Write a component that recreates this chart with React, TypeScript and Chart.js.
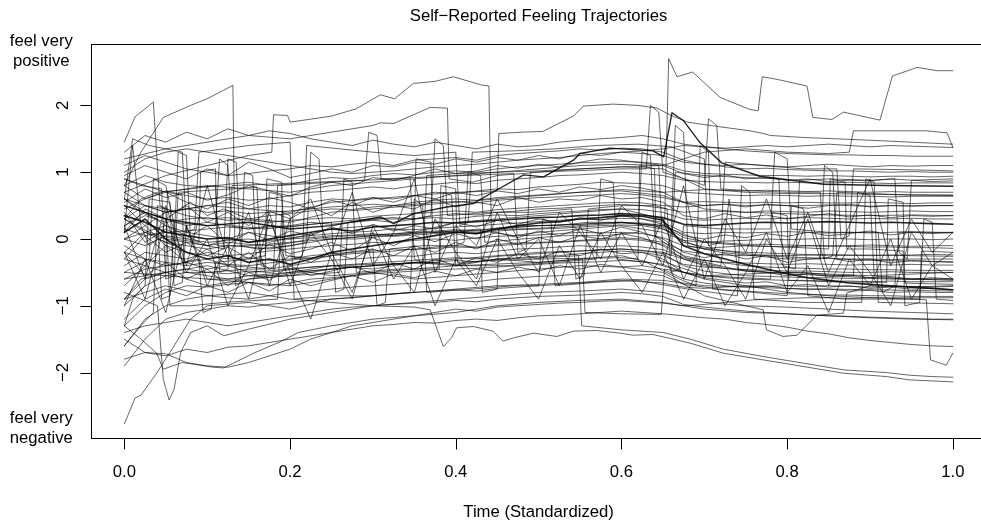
import React, { useEffect, useRef } from "react";
import { Chart, registerables } from "chart.js";

Chart.register(...registerables);

// ---------- text ----------
const TITLE = "Self\u2212Reported Feeling Trajectories";
const X_TITLE = "Time (Standardized)";
const TOP_LABEL = ["feel very", "positive"];
const BOTTOM_LABEL = ["feel very", "negative"];
const X_TICKS = [0, 0.2, 0.4, 0.6, 0.8, 1.0];
const X_TICK_LABELS = ["0.0", "0.2", "0.4", "0.6", "0.8", "1.0"];
const Y_TICKS = [-2, -1, 0, 1, 2];
const Y_TICK_LABELS = ["\u22122", "\u22121", "0", "1", "2"];

// ---------- shared time grid ----------
const GRID = [
  0, 0.025, 0.05, 0.075, 0.1, 0.125, 0.15, 0.175, 0.2, 0.225,
  0.25, 0.275, 0.3, 0.325, 0.35, 0.375, 0.4, 0.425, 0.45, 0.475,
  0.5, 0.525, 0.55, 0.575, 0.6, 0.625, 0.65, 0.675, 0.7, 0.725,
  0.75, 0.775, 0.8, 0.825, 0.85, 0.875, 0.9, 0.925, 0.95, 0.975,
  1.0,
];

// ---------- band trajectories (on GRID) ----------
const B1 = [1.10, 1.25, 1.15, 1.05, 1.00, 0.95, 0.98, 1.02, 1.05, 1.10,
  1.08, 1.12, 1.15, 1.10, 1.18, 1.20, 1.22, 1.18, 1.25, 1.28,
  1.30, 1.32, 1.35, 1.33, 1.36, 1.35, 1.30, 1.18, 1.12, 1.08,
  1.05, 1.06, 1.04, 1.03, 1.02, 1.02, 1.01, 1.00, 1.01, 1.00,
  1.00];
const B2 = [0.80, 0.95, 0.85, 0.80, 0.78, 0.82, 0.85, 0.80, 0.82, 0.88,
  0.92, 0.90, 0.95, 0.98, 0.96, 1.00, 1.02, 1.00, 1.05, 1.08,
  1.10, 1.12, 1.14, 1.15, 1.16, 1.15, 1.12, 1.02, 0.98, 0.97,
  0.96, 0.95, 0.95, 0.94, 0.95, 0.94, 0.93, 0.94, 0.94, 0.93,
  0.94];
const B3 = [0.45, 0.60, 0.72, 0.65, 0.60, 0.62, 0.58, 0.60, 0.65, 0.70,
  0.72, 0.75, 0.78, 0.75, 0.80, 0.82, 0.85, 0.83, 0.88, 0.90,
  0.92, 0.95, 0.96, 0.98, 1.00, 0.98, 0.95, 0.88, 0.86, 0.85,
  0.85, 0.84, 0.85, 0.84, 0.84, 0.85, 0.84, 0.83, 0.84, 0.84,
  0.84];
const B4 = [0.30, 0.50, 0.40, 0.45, 0.50, 0.55, 0.45, 0.50, 0.48, 0.55,
  0.60, 0.58, 0.62, 0.60, 0.65, 0.70, 0.68, 0.72, 0.75, 0.74,
  0.78, 0.80, 0.82, 0.85, 0.84, 0.83, 0.80, 0.70, 0.68, 0.66,
  0.65, 0.66, 0.65, 0.64, 0.65, 0.64, 0.64, 0.63, 0.64, 0.64,
  0.64];
const B5 = [0.20, 0.35, 0.25, 0.30, 0.32, 0.28, 0.30, 0.35, 0.38, 0.42,
  0.45, 0.44, 0.48, 0.50, 0.52, 0.55, 0.56, 0.54, 0.58, 0.60,
  0.62, 0.63, 0.65, 0.66, 0.68, 0.66, 0.62, 0.55, 0.56, 0.55,
  0.54, 0.55, 0.54, 0.55, 0.54, 0.54, 0.55, 0.54, 0.53, 0.54,
  0.54];
const B6 = [0.15, 0.05, 0.10, 0.12, 0.15, 0.18, 0.15, 0.20, 0.18, 0.22,
  0.25, 0.28, 0.30, 0.32, 0.30, 0.35, 0.38, 0.36, 0.40, 0.42,
  0.45, 0.46, 0.48, 0.50, 0.52, 0.50, 0.46, 0.40, 0.42, 0.41,
  0.40, 0.42, 0.41, 0.40, 0.42, 0.41, 0.40, 0.41, 0.42, 0.41,
  0.41];
const B7 = [0.35, 0.25, 0.10, 0.05, 0.00, 0.02, -0.05, 0.00, 0.05, 0.10,
  0.15, 0.12, 0.18, 0.20, 0.22, 0.25, 0.24, 0.26, 0.28, 0.30,
  0.32, 0.33, 0.35, 0.36, 0.38, 0.36, 0.32, 0.22, 0.20, 0.22,
  0.24, 0.25, 0.24, 0.25, 0.26, 0.25, 0.24, 0.25, 0.24, 0.23,
  0.22];
const B8 = [0.00, -0.10, 0.05, 0.00, -0.05, -0.02, 0.00, -0.05, 0.02, 0.05,
  0.08, 0.10, 0.12, 0.15, 0.14, 0.16, 0.18, 0.20, 0.22, 0.24,
  0.26, 0.28, 0.30, 0.29, 0.31, 0.30, 0.25, 0.10, 0.08, 0.10,
  0.09, 0.10, 0.11, 0.10, 0.09, 0.10, 0.09, 0.10, 0.11, 0.10,
  0.09];
const B9 = [-0.20, 0.10, -0.05, -0.10, -0.15, -0.10, -0.12, -0.15, -0.10, -0.05,
  0.00, 0.02, 0.05, 0.04, 0.06, 0.08, 0.10, 0.08, 0.12, 0.14,
  0.15, 0.16, 0.18, 0.20, 0.21, 0.20, 0.15, -0.02, -0.05, -0.03,
  -0.02, 0.00, -0.01, 0.00, 0.01, 0.00, -0.01, 0.00, 0.00, -0.01,
  0.00];
const B10 = [0.10, 0.30, 0.00, -0.20, -0.30, -0.25, -0.35, -0.30, -0.38, -0.30,
  -0.20, -0.15, -0.10, -0.05, 0.00, 0.05, 0.10, 0.08, 0.15, 0.20,
  0.24, 0.26, 0.30, 0.32, 0.35, 0.34, 0.28, -0.10, -0.22, -0.30,
  -0.38, -0.45, -0.52, -0.58, -0.62, -0.66, -0.68, -0.70, -0.72, -0.74,
  -0.76];
const B11 = [-0.40, -0.20, -0.25, -0.30, -0.20, -0.25, -0.22, -0.18, -0.15, -0.12,
  -0.10, -0.08, -0.05, -0.06, -0.02, 0.00, -0.02, 0.02, 0.04, 0.05,
  0.06, 0.08, 0.10, 0.09, 0.10, 0.08, 0.02, -0.10, -0.14, -0.12,
  -0.10, -0.11, -0.12, -0.10, -0.11, -0.10, -0.09, -0.10, -0.11, -0.10,
  -0.10];
const B12 = [0.50, 0.20, -0.10, -0.20, -0.25, -0.30, -0.28, -0.32, -0.30, -0.25,
  -0.22, -0.20, -0.18, -0.15, -0.16, -0.12, -0.10, -0.12, -0.08, -0.06,
  -0.05, -0.04, -0.02, 0.00, 0.02, 0.00, -0.05, -0.18, -0.22, -0.24,
  -0.25, -0.24, -0.25, -0.24, -0.23, -0.24, -0.25, -0.24, -0.24, -0.23,
  -0.24];
const B13 = [-0.60, -0.45, -0.40, -0.35, -0.45, -0.40, -0.42, -0.45, -0.40, -0.35,
  -0.32, -0.30, -0.28, -0.25, -0.26, -0.22, -0.20, -0.22, -0.18, -0.15,
  -0.14, -0.12, -0.10, -0.12, -0.10, -0.12, -0.16, -0.28, -0.32, -0.35,
  -0.36, -0.37, -0.38, -0.37, -0.38, -0.39, -0.38, -0.39, -0.38, -0.39,
  -0.39];
const B14 = [-1.00, -0.70, -0.55, -0.50, -0.55, -0.60, -0.55, -0.58, -0.52, -0.48,
  -0.45, -0.42, -0.40, -0.38, -0.36, -0.35, -0.32, -0.34, -0.30, -0.28,
  -0.26, -0.25, -0.22, -0.20, -0.18, -0.20, -0.25, -0.38, -0.42, -0.44,
  -0.46, -0.47, -0.48, -0.48, -0.49, -0.50, -0.50, -0.49, -0.50, -0.50,
  -0.50];
const B15 = [-1.30, -1.00, -0.80, -0.70, -0.72, -0.68, -0.65, -0.70, -0.66, -0.60,
  -0.58, -0.55, -0.52, -0.50, -0.48, -0.46, -0.45, -0.44, -0.42, -0.40,
  -0.38, -0.36, -0.35, -0.34, -0.32, -0.34, -0.38, -0.50, -0.55, -0.58,
  -0.60, -0.61, -0.62, -0.62, -0.63, -0.63, -0.64, -0.63, -0.64, -0.64,
  -0.64];
const B16 = [-1.60, -1.20, -1.00, -0.90, -0.85, -0.88, -0.90, -0.85, -0.80, -0.78,
  -0.75, -0.72, -0.70, -0.68, -0.66, -0.65, -0.62, -0.64, -0.60, -0.58,
  -0.56, -0.55, -0.52, -0.50, -0.48, -0.50, -0.55, -0.68, -0.72, -0.76,
  -0.78, -0.80, -0.82, -0.83, -0.84, -0.84, -0.85, -0.85, -0.86, -0.86,
  -0.86];
const B17 = [-1.90, -1.50, -1.20, -1.10, -1.05, -1.00, -1.02, -0.98, -0.95, -0.92,
  -0.90, -0.88, -0.85, -0.82, -0.80, -0.78, -0.76, -0.78, -0.74, -0.72,
  -0.70, -0.68, -0.66, -0.64, -0.62, -0.64, -0.66, -0.72, -0.74, -0.72,
  -0.70, -0.71, -0.70, -0.71, -0.70, -0.71, -0.72, -0.71, -0.71, -0.72,
  -0.71];
const B18 = [-1.40, -1.30, -1.25, -1.20, -1.25, -1.30, -1.25, -1.20, -1.15, -1.10,
  -1.05, -1.02, -1.00, -0.98, -0.96, -0.95, -0.92, -0.94, -0.90, -0.88,
  -0.86, -0.85, -0.84, -0.82, -0.80, -0.82, -0.86, -0.98, -1.02, -1.05,
  -1.08, -1.10, -1.12, -1.14, -1.15, -1.16, -1.17, -1.18, -1.19, -1.20,
  -1.20];
const B19 = [-1.80, -1.70, -1.75, -1.65, -1.70, -1.62, -1.60, -1.55, -1.50, -1.45,
  -1.40, -1.35, -1.30, -1.28, -1.25, -1.26, -1.22, -1.20, -1.22, -1.18,
  -1.15, -1.14, -1.12, -1.10, -1.08, -1.10, -1.12, -1.15, -1.18, -1.20,
  -1.25, -1.28, -1.32, -1.38, -1.42, -1.48, -1.52, -1.55, -1.58, -1.60,
  -1.61];
const B20 = [-1.50, -1.70, -1.72, -1.85, -1.90, -1.92, -1.85, -1.75, -1.65, -1.50,
  -1.40, -1.30, -1.25, -1.20, -1.15, -1.10, -1.05, -1.08, -1.02, -1.00,
  -0.98, -0.96, -0.95, -0.93, -0.92, -0.94, -0.96, -1.00, -0.98, -0.95,
  -0.92, -0.90, -0.89, -0.88, -0.88, -0.89, -0.88, -0.88, -0.88, -0.88,
  -0.88];
const B21 = [1.00, 1.20, 1.30, 1.35, 1.30, 1.25, 1.20, 1.15, 1.10, 1.05,
  1.00, 0.98, 1.00, 1.02, 1.05, 1.08, 1.10, 1.12, 1.15, 1.18,
  1.20, 1.22, 1.25, 1.28, 1.30, 1.32, 1.35, 1.40, 1.38, 1.35,
  1.32, 1.30, 1.28, 1.27, 1.26, 1.26, 1.25, 1.25, 1.24, 1.24,
  1.24];
const B22 = [0.20, 0.40, 0.30, 0.20, 0.25, 0.20, 0.15, 0.18, 0.20, 0.25,
  0.22, 0.25, 0.28, 0.25, 0.30, 0.32, 0.30, 0.34, 0.36, 0.35,
  0.38, 0.40, 0.42, 0.44, 0.45, 0.44, 0.40, 0.30, 0.28, 0.30,
  0.31, 0.30, 0.31, 0.32, 0.31, 0.30, 0.31, 0.30, 0.31, 0.30,
  0.30];
const B23 = [0.60, 0.40, 0.20, 0.10, 0.05, 0.00, -0.05, -0.02, 0.00, 0.02,
  0.05, 0.06, 0.08, 0.05, 0.08, 0.10, 0.12, 0.10, 0.14, 0.15,
  0.16, 0.18, 0.20, 0.22, 0.24, 0.22, 0.18, -0.05, -0.12, -0.18,
  -0.22, -0.25, -0.27, -0.28, -0.29, -0.30, -0.30, -0.31, -0.30, -0.30,
  -0.30];
const B24 = [0.30, 0.10, 0.00, -0.05, -0.10, -0.05, -0.08, -0.10, -0.06, 0.00,
  0.03, 0.05, 0.06, 0.08, 0.10, 0.12, 0.14, 0.12, 0.16, 0.18,
  0.20, 0.21, 0.22, 0.24, 0.25, 0.24, 0.20, 0.02, -0.04, -0.06,
  -0.08, -0.08, -0.09, -0.10, -0.10, -0.11, -0.12, -0.12, -0.13, -0.13,
  -0.14];
const B25 = [-0.10, -0.30, -0.35, -0.40, -0.35, -0.38, -0.40, -0.36, -0.32, -0.28,
  -0.25, -0.22, -0.20, -0.18, -0.15, -0.14, -0.12, -0.13, -0.10, -0.08,
  -0.06, -0.05, -0.03, -0.02, 0.00, -0.02, -0.08, -0.25, -0.32, -0.36,
  -0.40, -0.42, -0.43, -0.44, -0.45, -0.45, -0.46, -0.46, -0.47, -0.47,
  -0.47];
const B26 = [0.70, 0.50, 0.45, 0.35, 0.30, 0.32, 0.28, 0.25, 0.28, 0.30,
  0.32, 0.30, 0.34, 0.36, 0.38, 0.40, 0.42, 0.40, 0.44, 0.46,
  0.48, 0.50, 0.52, 0.54, 0.55, 0.54, 0.50, 0.48, 0.50, 0.52,
  0.50, 0.51, 0.50, 0.50, 0.51, 0.50, 0.49, 0.50, 0.50, 0.50,
  0.50];
const B27 = [-0.90, -0.60, -0.50, -0.45, -0.50, -0.52, -0.48, -0.50, -0.46, -0.42,
  -0.40, -0.38, -0.36, -0.34, -0.32, -0.30, -0.28, -0.30, -0.26, -0.24,
  -0.22, -0.20, -0.18, -0.16, -0.15, -0.17, -0.22, -0.40, -0.48, -0.52,
  -0.55, -0.56, -0.57, -0.58, -0.58, -0.59, -0.59, -0.60, -0.60, -0.60,
  -0.60];
const B28 = [0.00, 0.20, 0.40, 0.45, 0.40, 0.42, 0.38, 0.40, 0.42, 0.45,
  0.48, 0.50, 0.52, 0.50, 0.55, 0.58, 0.60, 0.58, 0.62, 0.64,
  0.66, 0.68, 0.70, 0.72, 0.74, 0.72, 0.70, 0.72, 0.74, 0.73,
  0.72, 0.73, 0.72, 0.71, 0.72, 0.71, 0.70, 0.71, 0.70, 0.70,
  0.70];

// ---------- jittery band trajectories (on GRID) ----------
const C1 = [0.55, 0.75, 0.62, 0.70, 0.58, 0.66, 0.80, 0.72, 0.64, 0.78,
  0.85, 0.80, 0.92, 0.88, 0.95, 1.05, 0.98, 1.02, 1.10, 1.06,
  1.12, 1.08, 1.15, 1.20, 1.18, 1.14, 1.10, 0.98, 0.92, 0.96,
  0.90, 0.92, 0.88, 0.90, 0.86, 0.88, 0.87, 0.90, 0.88, 0.86,
  0.87];
const C2 = [-0.30, 0.05, -0.20, -0.05, -0.25, -0.12, -0.30, -0.08, -0.22, -0.15,
  -0.05, -0.18, 0.02, -0.10, 0.05, -0.04, 0.08, 0.00, 0.10, 0.02,
  0.12, 0.05, 0.15, 0.08, 0.18, 0.10, 0.00, -0.20, -0.28, -0.22,
  -0.30, -0.25, -0.35, -0.30, -0.28, -0.34, -0.30, -0.36, -0.32, -0.34,
  -0.35];
const C3 = [0.10, 0.45, 0.30, 0.50, 0.25, 0.40, 0.20, 0.42, 0.30, 0.48,
  0.35, 0.55, 0.40, 0.50, 0.45, 0.60, 0.48, 0.55, 0.50, 0.62,
  0.55, 0.60, 0.58, 0.65, 0.60, 0.62, 0.55, 0.35, 0.30, 0.38,
  0.32, 0.36, 0.30, 0.34, 0.38, 0.33, 0.36, 0.32, 0.35, 0.34,
  0.35];
const C4 = [-0.20, -0.55, -0.35, -0.60, -0.45, -0.70, -0.50, -0.62, -0.40, -0.55,
  -0.48, -0.40, -0.52, -0.36, -0.45, -0.30, -0.40, -0.28, -0.35, -0.22,
  -0.30, -0.18, -0.25, -0.15, -0.22, -0.20, -0.30, -0.50, -0.58, -0.62,
  -0.66, -0.64, -0.70, -0.68, -0.72, -0.70, -0.74, -0.72, -0.75, -0.74,
  -0.76];
const C5 = [1.30, 1.55, 1.45, 1.60, 1.50, 1.65, 1.55, 1.62, 1.58, 1.50,
  1.45, 1.40, 1.48, 1.42, 1.38, 1.45, 1.40, 1.35, 1.42, 1.38,
  1.40, 1.45, 1.48, 1.50, 1.52, 1.55, 1.50, 1.42, 1.38, 1.36,
  1.38, 1.40, 1.38, 1.40, 1.42, 1.40, 1.38, 1.40, 1.39, 1.38,
  1.37];
const C6 = [0.40, -0.05, 0.15, 0.00, 0.20, -0.08, 0.10, -0.02, 0.12, 0.05,
  0.18, 0.08, 0.22, 0.12, 0.20, 0.15, 0.25, 0.18, 0.28, 0.22,
  0.30, 0.25, 0.32, 0.28, 0.35, 0.30, 0.22, 0.05, 0.00, 0.06,
  0.02, 0.08, 0.04, 0.10, 0.05, 0.08, 0.12, 0.06, 0.10, 0.08,
  0.10];
const C7 = [-0.70, -0.40, -0.10, -0.35, -0.15, -0.40, -0.20, -0.45, -0.25, -0.35,
  -0.20, -0.30, -0.15, -0.25, -0.10, -0.20, -0.05, -0.15, 0.00, -0.08,
  0.02, -0.05, 0.05, 0.00, 0.08, 0.02, -0.10, -0.30, -0.38, -0.42,
  -0.48, -0.50, -0.55, -0.52, -0.56, -0.54, -0.58, -0.56, -0.60, -0.58,
  -0.60];
const C8 = [0.95, 1.10, 1.00, 0.90, 1.05, 0.95, 1.15, 1.05, 0.92, 0.98,
  1.05, 1.00, 1.10, 1.08, 1.15, 1.12, 1.20, 1.15, 1.22, 1.18,
  1.25, 1.20, 1.28, 1.25, 1.30, 1.28, 1.25, 1.15, 1.12, 1.10,
  1.12, 1.10, 1.08, 1.10, 1.12, 1.10, 1.08, 1.10, 1.09, 1.10,
  1.10];
const C9 = [0.80, 0.60, 0.70, 0.55, 0.45, 0.60, 0.50, 0.62, 0.55, 0.45,
  0.58, 0.50, 0.62, 0.55, 0.65, 0.60, 0.70, 0.65, 0.72, 0.68,
  0.75, 0.70, 0.78, 0.74, 0.80, 0.76, 0.70, 0.55, 0.50, 0.52,
  0.48, 0.52, 0.50, 0.46, 0.50, 0.52, 0.48, 0.50, 0.49, 0.50,
  0.50];
const C10 = [-1.20, -0.90, -0.75, -0.85, -0.70, -0.80, -0.65, -0.78, -0.60, -0.70,
  -0.62, -0.55, -0.65, -0.52, -0.58, -0.48, -0.55, -0.45, -0.50, -0.42,
  -0.48, -0.40, -0.45, -0.38, -0.42, -0.40, -0.45, -0.60, -0.66, -0.70,
  -0.72, -0.70, -0.74, -0.76, -0.75, -0.78, -0.77, -0.80, -0.79, -0.80,
  -0.80];

// ---------- jumpy trajectories (on GRID) ----------
const P1 = [0.20, -0.60, 0.50, -0.40, 0.80, -0.30, 0.40, -0.70, 0.30, 0.60,
  -0.20, 0.70, -0.40, 0.10, 0.90, -0.50, 0.20, -0.10, 0.60, 0.00,
  -0.50, 0.40, 0.10, -0.30, 0.50, 0.20, -0.40, 0.80, -0.60, 0.30,
  -0.20, 0.60, -0.30, 0.40, -0.50, 0.20, 0.90, -0.40, 0.30, -0.20,
  0.10];
const P2 = [-1.00, -0.30, -1.10, 0.20, -0.70, -0.10, -0.90, 0.30, -0.50, -1.20,
  -0.20, -0.80, 0.10, -0.60, -0.10, -1.00, -0.30, -0.70, 0.00, -0.50,
  -0.90, -0.10, -0.60, 0.10, -0.40, -0.80, -0.20, -0.90, -0.30, -1.00,
  -0.50, 0.10, -0.80, -0.40, -1.10, -0.30, -0.70, 0.00, -0.90, -0.40,
  -0.60];
const P3 = [-0.20, -0.90, 0.30, -0.50, 0.00, -1.00, -0.40, 0.40, -0.70, 0.10,
  -0.30, -0.90, 0.20, -0.40, -0.80, 0.30, -0.20, -0.60, 0.40, -0.30,
  0.00, -0.70, 0.20, -0.50, 0.10, -0.40, 0.30, -0.60, 0.00, -0.40,
  -0.90, 0.00, -0.50, 0.30, -0.70, -0.10, -0.50, -1.00, 0.10, -0.40,
  -0.20];

// ---------- spiky trajectories with their own times ----------
const Q1_T = [0, 0.01, 0.02, 0.03, 0.04, 0.06, 0.065, 0.075, 0.08, 0.1, 0.12, 0.125, 0.135, 0.14, 0.16, 0.2, 0.22, 0.225, 0.235, 0.24, 0.28, 0.32, 0.36, 0.4, 0.44, 0.48, 0.52, 0.56, 0.6, 0.64, 0.66, 0.665, 0.675, 0.68, 0.72, 0.76, 0.8, 0.84, 0.845, 0.855, 0.86, 0.9, 0.95, 1.0];
const Q1_V = [0.1, 1.4, 0.2, -0.1, 0.0, -0.1, 1.3, 1.25, -0.05, -0.1, -0.15, 1.2, 1.15, -0.1, -0.15, -0.1, -0.05, 1.3, 1.2, 0.0, 0.0, 0.05, 0.1, 0.1, 0.15, 0.2, 0.2, 0.25, 0.25, 0.2, 0.1, 1.7, 1.6, -0.1, -0.2, -0.25, -0.3, -0.3, 1.1, 1.0, -0.3, -0.32, -0.33, -0.34];
const Q2_T = [0, 0.015, 0.03, 0.035, 0.05, 0.07, 0.09, 0.095, 0.105, 0.11, 0.15, 0.17, 0.175, 0.19, 0.195, 0.23, 0.27, 0.3, 0.305, 0.315, 0.32, 0.36, 0.4, 0.41, 0.415, 0.43, 0.435, 0.48, 0.53, 0.58, 0.62, 0.625, 0.635, 0.64, 0.68, 0.72, 0.73, 0.74, 0.78, 0.82, 0.86, 0.88, 0.885, 0.9, 0.905, 0.94, 1.0];
const Q2_V = [-0.5, -0.4, -0.3, 0.9, 0.8, -0.35, -0.3, -1.1, -1.05, -0.35, -0.3, -0.25, 0.7, 0.65, -0.25, -0.3, -0.2, -0.15, -1.0, -0.95, -0.15, -0.1, -0.1, -0.05, 1.0, 0.95, -0.05, 0.0, 0.05, 0.05, 0.1, 1.3, 1.25, 0.05, -0.3, -0.4, 0.6, -0.45, -0.5, -0.5, -0.55, -0.55, 0.7, 0.65, -0.55, -0.6, -0.6];
const Q3_T = [0, 0.02, 0.045, 0.05, 0.06, 0.065, 0.09, 0.13, 0.16, 0.165, 0.18, 0.185, 0.21, 0.25, 0.29, 0.33, 0.345, 0.35, 0.36, 0.365, 0.4, 0.45, 0.5, 0.55, 0.6, 0.645, 0.65, 0.66, 0.665, 0.7, 0.75, 0.79, 0.795, 0.81, 0.815, 0.85, 0.9, 0.93, 0.935, 0.945, 0.95, 1.0];
const Q3_V = [0.9, 0.8, 0.75, -0.6, -0.55, 0.7, 0.72, 0.75, 0.78, -0.4, -0.45, 0.8, 0.82, 0.85, 0.88, 0.9, 0.92, -0.3, -0.35, 0.95, 0.98, 1.0, 1.02, 1.05, 1.08, 1.1, -0.2, -0.25, 1.0, 0.95, 0.92, 0.9, -0.4, -0.45, 0.88, 0.9, 0.88, 0.9, -0.2, -0.3, 0.88, 0.9];
const Q4_T = [0, 0.01, 0.025, 0.03, 0.055, 0.06, 0.07, 0.075, 0.1, 0.14, 0.145, 0.155, 0.16, 0.2, 0.26, 0.265, 0.275, 0.28, 0.33, 0.38, 0.385, 0.395, 0.4, 0.46, 0.52, 0.57, 0.575, 0.59, 0.595, 0.63, 0.67, 0.69, 0.695, 0.705, 0.71, 0.76, 0.8, 0.805, 0.82, 0.825, 0.87, 0.92, 0.96, 0.965, 0.975, 0.98, 1.0];
const Q4_V = [-1.3, -0.9, -0.7, 0.6, 0.55, -0.7, -0.65, 0.2, -0.6, -0.6, 1.0, 0.95, -0.55, -0.55, -0.5, 0.9, 0.85, -0.5, -0.45, -0.45, 0.7, 0.65, -0.4, -0.4, -0.35, -0.3, 0.9, 0.85, -0.3, -0.35, -0.6, -0.7, 1.4, 1.3, -0.75, -0.8, -0.85, 0.5, 0.45, -0.85, -0.9, -0.9, -0.9, 0.3, 0.25, -0.9, -0.92];
const Q5_T = [0, 0.01, 0.03, 0.05, 0.07, 0.075, 0.085, 0.09, 0.12, 0.15, 0.2, 0.205, 0.215, 0.22, 0.26, 0.3, 0.35, 0.4, 0.405, 0.415, 0.42, 0.47, 0.52, 0.57, 0.62, 0.66, 0.7, 0.705, 0.72, 0.725, 0.77, 0.82, 0.86, 0.865, 0.875, 0.88, 0.93, 0.97, 1.0];
const Q5_V = [0.6, 1.5, 1.4, 1.35, 1.3, 0.1, 0.15, 1.3, 1.35, 1.4, 1.45, -0.3, -0.25, 1.4, 1.35, 1.3, 1.25, 1.3, 0.2, 0.25, 1.3, 1.32, 1.35, 1.4, 1.42, 1.38, 1.2, -0.1, -0.05, 1.15, 1.1, 1.05, 1.05, 0.0, 0.05, 1.05, 1.04, 1.03, 1.02];
const Q6_T = [0, 0.02, 0.04, 0.045, 0.055, 0.06, 0.1, 0.11, 0.115, 0.125, 0.13, 0.17, 0.21, 0.25, 0.255, 0.265, 0.27, 0.31, 0.35, 0.37, 0.375, 0.385, 0.39, 0.44, 0.49, 0.54, 0.545, 0.555, 0.56, 0.6, 0.64, 0.655, 0.66, 0.67, 0.675, 0.72, 0.77, 0.78, 0.785, 0.8, 0.805, 0.85, 0.9, 0.91, 0.915, 0.93, 0.935, 1.0];
const Q6_V = [0.6, 0.4, 0.3, -0.9, -0.85, 0.25, 0.2, 0.2, 1.2, 1.1, 0.2, 0.15, 0.2, 0.25, -0.8, -0.75, 0.25, 0.3, 0.3, 0.35, 1.5, 1.4, 0.35, 0.4, 0.4, 0.45, -0.6, -0.55, 0.45, 0.5, 0.5, 0.45, -0.5, -0.45, 0.2, 0.15, 0.15, 0.15, 1.3, 1.2, 0.15, 0.1, 0.1, 0.1, -0.8, -0.7, 0.1, 0.1];
const Q7_T = [0, 0.02, 0.035, 0.04, 0.05, 0.055, 0.08, 0.12, 0.185, 0.19, 0.2, 0.205, 0.25, 0.3, 0.345, 0.35, 0.36, 0.365, 0.42, 0.47, 0.5, 0.505, 0.515, 0.52, 0.57, 0.62, 0.68, 0.74, 0.745, 0.755, 0.76, 0.82, 0.88, 0.89, 0.895, 0.905, 0.91, 0.96, 1.0];
const Q7_V = [-1.6, -1.3, -1.1, 0.5, 0.45, -1.0, -1.0, -0.95, -0.9, 0.4, 0.35, -0.9, -0.85, -0.85, -0.8, 0.6, 0.5, -0.8, -0.75, -0.7, -0.7, 0.3, 0.25, -0.7, -0.65, -0.62, -0.75, -0.85, 0.8, 0.7, -0.9, -0.95, -0.95, -0.95, 0.9, 0.85, -0.95, -0.96, -0.97];
const Q8_T = [0, 0.02, 0.04, 0.08, 0.11, 0.115, 0.125, 0.13, 0.17, 0.23, 0.29, 0.295, 0.305, 0.31, 0.35, 0.41, 0.47, 0.475, 0.485, 0.49, 0.54, 0.6, 0.63, 0.635, 0.645, 0.65, 0.69, 0.7, 0.705, 0.715, 0.72, 0.76, 0.8, 0.84, 0.845, 0.855, 0.86, 0.9, 0.95, 1.0];
const Q8_V = [0.3, 0.6, 0.7, 0.75, 0.8, -0.5, -0.45, 0.8, 0.82, 0.85, 0.88, 1.6, 1.55, 0.9, 0.92, 0.95, 0.98, -0.2, -0.15, 1.0, 1.02, 1.05, 1.05, 2.0, 1.9, 1.0, 0.85, 0.8, 1.8, 1.7, 0.75, 0.72, 0.7, 0.7, -0.3, -0.25, 0.7, 0.68, 0.66, 0.65];
const Q9_T = [0, 0.03, 0.06, 0.09, 0.092, 0.11, 0.112, 0.15, 0.2, 0.25, 0.3, 0.35, 0.352, 0.37, 0.372, 0.4, 0.43, 0.432, 0.45, 0.452, 0.5, 0.55, 0.6, 0.65, 0.7, 0.75, 0.8, 0.85, 0.852, 0.87, 0.872, 0.9, 0.94, 0.942, 0.96, 0.962, 1.0];
const Q9_V = [0.3, 0.1, 0.0, -0.05, 1.0, 1.05, -0.1, -0.1, -0.05, 0.0, 0.05, 0.1, 1.2, 1.15, 0.1, 0.12, 0.15, -0.8, -0.75, 0.15, 0.2, 0.22, 0.25, 0.2, -0.05, -0.1, -0.12, -0.15, 0.9, 0.85, -0.15, -0.15, -0.18, -1.0, -0.95, -0.18, -0.2];
const Q10_T = [0, 0.02, 0.05, 0.052, 0.07, 0.072, 0.1, 0.15, 0.17, 0.172, 0.19, 0.192, 0.25, 0.3, 0.38, 0.382, 0.4, 0.402, 0.45, 0.5, 0.6, 0.62, 0.622, 0.64, 0.642, 0.7, 0.78, 0.782, 0.8, 0.802, 0.85, 0.92, 0.922, 0.94, 0.942, 1.0];
const Q10_V = [-0.9, -0.6, -0.5, 0.7, 0.65, -0.5, -0.5, -0.45, -0.45, 0.9, 0.85, -0.45, -0.4, -0.38, -0.35, 0.8, 0.75, -0.35, -0.32, -0.3, -0.28, -0.3, 1.1, 1.05, -0.3, -0.55, -0.6, 0.4, 0.35, -0.62, -0.64, -0.65, 0.6, 0.55, -0.66, -0.68];

// ---------- individual trajectories with their own times ----------
const S_A1_T = [0, 0.013, 0.035, 0.043, 0.06, 0.08, 0.1, 0.12, 0.15, 0.2, 0.25, 0.3, 0.35, 0.4, 0.45, 0.5, 0.55, 0.6, 0.65, 0.7, 0.75, 0.8, 0.85, 0.9, 0.95, 1.0];
const S_A1_V = [1.45, 1.83, 2.05, 0.50, 0.40, 0.55, 0.35, 0.45, 0.30, 0.25, 0.40, 0.45, 0.50, 0.55, 0.60, 0.65, 0.70, 0.72, 0.65, 0.45, 0.40, 0.38, 0.36, 0.35, 0.36, 0.35];
const S_A2_T = [0, 0.02, 0.047, 0.08, 0.1, 0.131, 0.134, 0.15, 0.2, 0.25, 0.3, 0.35, 0.4, 0.45, 0.5, 0.55, 0.6, 0.65, 0.7, 0.75, 0.8, 0.85, 0.9, 0.95, 1.0];
const S_A2_V = [0.80, 1.30, 1.82, 2.00, 2.10, 2.30, -0.70, -0.60, -0.55, -0.45, -0.40, -0.35, -0.30, -0.25, -0.20, -0.18, -0.15, -0.20, -0.40, -0.48, -0.52, -0.55, -0.58, -0.60, -0.62];
const S_A3_T = [0, 0.05, 0.1, 0.15, 0.178, 0.18, 0.197, 0.2, 0.25, 0.28, 0.309, 0.326, 0.349, 0.375, 0.397, 0.43, 0.44, 0.443, 0.47, 0.5, 0.55, 0.6, 0.65, 0.7, 0.75, 0.8, 0.85, 0.9, 0.95, 1.0];
const S_A3_V = [0.70, 0.95, 1.10, 1.25, 1.30, 1.86, 1.85, 1.75, 1.84, 1.95, 2.16, 2.10, 2.33, 2.36, 2.43, 2.31, 2.29, 0.10, 0.05, 0.10, 0.15, 0.20, 0.10, -0.15, -0.20, -0.22, -0.25, -0.24, -0.25, -0.26];
const S_A4_T = [0, 0.05, 0.1, 0.15, 0.2, 0.25, 0.3, 0.309, 0.325, 0.369, 0.39, 0.392, 0.42, 0.45, 0.5, 0.55, 0.6, 0.65, 0.7, 0.75, 0.8, 0.85, 0.9, 0.95, 1.0];
const S_A4_V = [1.20, 1.35, 1.45, 1.55, 1.50, 1.60, 1.70, 1.74, 1.73, 1.97, 1.96, 0.90, 0.85, 0.95, 1.00, 1.05, 1.08, 1.05, 0.75, 0.70, 0.68, 0.68, 0.67, 0.66, 0.66];
const S_UP_T = [0, 0.05, 0.1, 0.15, 0.2, 0.25, 0.3, 0.35, 0.4, 0.45, 0.452, 0.48, 0.505, 0.542, 0.554, 0.59, 0.62, 0.643, 0.66, 0.68, 0.707, 0.755, 0.771, 0.78, 0.82, 0.86, 0.916, 1.0];
const S_UP_V = [0.60, 0.40, 0.50, 0.45, 0.40, 0.55, 0.60, 0.65, 0.70, 0.72, 1.58, 1.60, 1.61, 1.84, 1.99, 2.02, 2.00, 1.96, 1.85, 1.75, 1.70, 1.62, 1.58, 1.55, 1.52, 1.50, 1.47, 1.42];
const S_TOP_T = [0, 0.05, 0.1, 0.15, 0.2, 0.25, 0.3, 0.35, 0.4, 0.45, 0.5, 0.55, 0.6, 0.65, 0.652, 0.657, 0.667, 0.686, 0.719, 0.755, 0.765, 0.77, 0.788, 0.824, 0.831, 0.854, 0.868, 0.912, 0.927, 0.957, 0.981, 1.0];
const S_TOP_V = [0.00, 0.20, -0.10, 0.10, 0.00, 0.15, 0.20, 0.10, 0.25, 0.30, 0.35, 0.40, 0.45, 0.30, 0.20, 2.70, 2.43, 2.50, 2.12, 1.94, 1.92, 2.43, 2.39, 2.29, 1.82, 1.79, 1.90, 1.78, 2.44, 2.57, 2.52, 2.52];
const S_DARK_T = [0, 0.05, 0.1, 0.15, 0.2, 0.25, 0.309, 0.325, 0.349, 0.389, 0.421, 0.449, 0.482, 0.506, 0.542, 0.55, 0.586, 0.638, 0.651, 0.661, 0.675, 0.695, 0.721, 0.767, 0.844, 0.92, 1.0];
const S_DARK_V = [0.50, 0.30, 0.20, 0.25, 0.15, 0.20, 0.33, 0.23, 0.38, 0.48, 0.53, 0.73, 0.96, 0.93, 1.18, 1.28, 1.36, 1.32, 1.23, 1.89, 1.77, 1.44, 1.14, 0.94, 0.82, 0.80, 0.79];
const S_STEP_T = [0, 0.05, 0.1, 0.15, 0.2, 0.25, 0.3, 0.35, 0.4, 0.45, 0.5, 0.55, 0.6, 0.65, 0.7, 0.75, 0.8, 0.85, 0.875, 0.88, 0.968, 0.993, 1.0];
const S_STEP_V = [0.90, 0.70, 0.80, 0.75, 0.70, 0.80, 0.85, 0.90, 0.95, 1.00, 1.05, 1.10, 1.12, 1.10, 1.30, 1.35, 1.30, 1.28, 1.30, 1.62, 1.62, 1.59, 1.37];
const S_BOT1_T = [0, 0.05, 0.1, 0.15, 0.2, 0.25, 0.3, 0.35, 0.369, 0.385, 0.395, 0.401, 0.421, 0.445, 0.457, 0.47, 0.494, 0.522, 0.542, 0.57, 0.598, 0.614, 0.638, 0.659, 0.683, 0.723, 0.771, 0.82, 0.868, 0.92, 0.948, 1.0];
const S_BOT1_V = [-0.90, -0.70, -0.85, -0.80, -0.90, -0.95, -1.00, -1.02, -1.06, -1.61, -1.48, -1.33, -1.31, -1.38, -1.53, -1.48, -1.41, -1.46, -1.38, -1.37, -1.41, -1.44, -1.43, -1.49, -1.56, -1.71, -1.81, -1.91, -2.01, -2.06, -2.11, -2.14];
const S_BOT2_T = [0, 0.05, 0.1, 0.15, 0.2, 0.25, 0.3, 0.35, 0.4, 0.45, 0.5, 0.548, 0.552, 0.6, 0.65, 0.683, 0.723, 0.771, 0.82, 0.868, 0.92, 0.948, 0.975, 1.0];
const S_BOT2_V = [-0.30, -0.50, -0.40, -0.55, -0.50, -0.45, -0.40, -0.35, -0.38, -0.30, -0.28, -0.25, -1.30, -1.36, -1.40, -1.50, -1.65, -1.76, -1.86, -1.96, -2.00, -2.04, -2.06, -2.07];
const S_START_T = [0, 0.013, 0.02, 0.039, 0.059, 0.08, 0.1, 0.15, 0.2, 0.25, 0.3, 0.35, 0.4, 0.45, 0.5, 0.55, 0.6, 0.65, 0.7, 0.75, 0.8, 0.85, 0.9, 0.95, 1.0];
const S_START_V = [-2.77, -2.38, -2.34, -2.01, -1.62, -1.20, -1.00, -0.95, -1.05, -0.90, -0.85, -0.80, -0.75, -0.70, -0.68, -0.65, -0.60, -0.62, -0.70, -0.72, -0.74, -0.75, -0.76, -0.77, -0.78];
const S_DIP_T = [0, 0.02, 0.04, 0.047, 0.054, 0.06, 0.068, 0.08, 0.1, 0.12, 0.15, 0.2, 0.25, 0.3, 0.35, 0.4, 0.45, 0.5, 0.55, 0.6, 0.65, 0.7, 0.75, 0.8, 0.85, 0.9, 0.95, 1.0];
const S_DIP_V = [-0.80, -0.90, -1.00, -2.10, -2.41, -2.25, -1.70, -1.40, -1.30, -1.45, -1.35, -1.20, -1.10, -1.00, -0.95, -0.90, -0.85, -0.80, -0.78, -0.75, -0.80, -0.95, -1.00, -1.02, -1.05, -1.08, -1.10, -1.12];
const S_LOW_T = [0, 0.02, 0.039, 0.047, 0.07, 0.107, 0.12, 0.156, 0.188, 0.21, 0.25, 0.3, 0.35, 0.4, 0.45, 0.5, 0.55, 0.6, 0.65, 0.7, 0.75, 0.8, 0.85, 0.9, 0.95, 1.0];
const S_LOW_V = [-1.30, -1.50, -1.71, -1.95, -1.85, -1.92, -1.93, -1.71, -1.54, -1.40, -1.30, -1.20, -1.15, -1.10, -1.00, -0.95, -0.92, -0.90, -0.95, -1.05, -1.10, -1.12, -1.15, -1.18, -1.20, -1.21];
const S_DROP_T = [0, 0.05, 0.1, 0.15, 0.2, 0.25, 0.3, 0.35, 0.4, 0.45, 0.5, 0.55, 0.6, 0.65, 0.7, 0.75, 0.8, 0.85, 0.9, 0.95, 0.968, 0.973, 0.992, 1.0];
const S_DROP_V = [-0.60, -0.50, -0.70, -0.60, -0.50, -0.40, -0.45, -0.35, -0.40, -0.30, -0.35, -0.30, -0.25, -0.40, -0.60, -0.70, -0.80, -0.85, -0.88, -0.90, -0.91, -1.81, -1.89, -1.71];
const S_NOTCH_T = [0, 0.05, 0.1, 0.15, 0.2, 0.25, 0.3, 0.35, 0.4, 0.45, 0.5, 0.55, 0.6, 0.65, 0.7, 0.75, 0.771, 0.775, 0.795, 0.812, 0.836, 0.868, 0.872, 0.9, 0.95, 1.0];
const S_NOTCH_V = [-0.20, -0.40, -0.30, -0.50, -0.45, -0.55, -0.50, -0.60, -0.55, -0.50, -0.45, -0.40, -0.42, -0.50, -0.85, -1.00, -1.06, -1.36, -1.46, -1.44, -1.14, -1.11, -0.81, -0.70, -0.72, -0.70];
const S_RECT_T = [0, 0.1, 0.2, 0.3, 0.4, 0.5, 0.553, 0.556, 0.6, 0.648, 0.652, 0.7, 0.8, 0.9, 1.0];
const S_RECT_V = [-0.50, -0.60, -0.70, -0.50, -0.40, -0.35, -0.30, -1.10, -1.12, -1.13, -0.45, -0.55, -0.50, -0.55, -0.50];

const GRID_SERIES = [B1, B2, B3, B4, B5, B6, B8, B9, B11, B12, B13, B14, B15, B16, B17, B18, B19, B20,
  B21, B22, B23, B24, B25, B26, B27, B28, C1, C2, C3, C4, C5, C6, C7, C8, C9, C10, P1, P2, P3];
const DARK_GRID_SERIES = [B7, B10];
const OWN_TIME_SERIES: [number[], number[]][] = [
  [Q1_T, Q1_V], [Q2_T, Q2_V], [Q3_T, Q3_V], [Q4_T, Q4_V], [Q5_T, Q5_V],
  [Q6_T, Q6_V], [Q7_T, Q7_V], [Q8_T, Q8_V], [Q9_T, Q9_V], [Q10_T, Q10_V],
  [S_A1_T, S_A1_V], [S_A2_T, S_A2_V], [S_A3_T, S_A3_V], [S_A4_T, S_A4_V],
  [S_UP_T, S_UP_V], [S_TOP_T, S_TOP_V], [S_STEP_T, S_STEP_V],
  [S_BOT1_T, S_BOT1_V], [S_BOT2_T, S_BOT2_V], [S_START_T, S_START_V],
  [S_DIP_T, S_DIP_V], [S_LOW_T, S_LOW_V], [S_DROP_T, S_DROP_V],
  [S_NOTCH_T, S_NOTCH_V], [S_RECT_T, S_RECT_V],
];
const DARK_OWN_TIME_SERIES: [number[], number[]][] = [[S_DARK_T, S_DARK_V]];

const FONT_FAMILY = '"Liberation Sans", Arial, Helvetica, sans-serif';
const FONT = `16.7px ${FONT_FAMILY}`;

function toPoints(t: number[], v: number[]) {
  const n = Math.min(t.length, v.length);
  const out: { x: number; y: number }[] = [];
  for (let i = 0; i < n; i++) out.push({ x: t[i], y: v[i] });
  return out;
}

const rAxesPlugin = {
  id: "rAxes",
  afterDraw(chart: any) {
    const { ctx, chartArea: a, scales } = chart;
    const xs = scales.x;
    const ys = scales.y;
    ctx.save();
    ctx.strokeStyle = "#000";
    ctx.fillStyle = "#000";
    ctx.lineWidth = 1;
    const L = Math.round(a.left) + 0.5;
    const T = Math.round(a.top) + 0.5;
    const R = Math.round(a.right) + 0.5;
    const B = Math.round(a.bottom) + 0.5;
    ctx.strokeRect(L, T, R - L, B - T);

    ctx.font = FONT;
    ctx.textAlign = "center";
    ctx.textBaseline = "alphabetic";
    X_TICKS.forEach((v, i) => {
      const px = xs.getPixelForValue(v);
      const p = Math.round(px) + 0.5;
      ctx.beginPath();
      ctx.moveTo(p, B);
      ctx.lineTo(p, B + 11);
      ctx.stroke();
      ctx.fillText(X_TICK_LABELS[i], px, B + 38.2);
    });
    Y_TICKS.forEach((v, i) => {
      const py = ys.getPixelForValue(v);
      const p = Math.round(py) + 0.5;
      ctx.beginPath();
      ctx.moveTo(L - 11, p);
      ctx.lineTo(L, p);
      ctx.stroke();
      ctx.save();
      ctx.translate(L - 23.5, py);
      ctx.rotate(-Math.PI / 2);
      ctx.textAlign = "center";
      ctx.fillText(Y_TICK_LABELS[i], 0, 0);
      ctx.restore();
    });
    ctx.textAlign = "center";
    ctx.fillText(TOP_LABEL[0], 41.3, 45.7);
    ctx.fillText(TOP_LABEL[1], 41.3, 65.7);
    ctx.fillText(BOTTOM_LABEL[0], 41.3, 423.3);
    ctx.fillText(BOTTOM_LABEL[1], 41.3, 443.3);
    const cx = (a.left + a.right) / 2;
    ctx.fillText(TITLE, cx, 20.7);
    ctx.fillText(X_TITLE, cx, B + 78.2);
    ctx.restore();
  },
};

export default function App() {
  const ref = useRef<HTMLCanvasElement | null>(null);
  useEffect(() => {
    if (!ref.current) return;
    const lineColor = "rgba(0,0,0,0.6)";
    const darkColor = "rgba(0,0,0,0.85)";
    const datasets: any[] = [];
    GRID_SERIES.forEach((s) => {
      datasets.push({ data: toPoints(GRID, s), borderColor: lineColor, borderWidth: 1 });
    });
    OWN_TIME_SERIES.forEach(([t, v]) => {
      datasets.push({ data: toPoints(t, v), borderColor: lineColor, borderWidth: 1 });
    });
    DARK_GRID_SERIES.forEach((s) => {
      datasets.push({ data: toPoints(GRID, s), borderColor: darkColor, borderWidth: 1.6 });
    });
    DARK_OWN_TIME_SERIES.forEach(([t, v]) => {
      datasets.push({ data: toPoints(t, v), borderColor: darkColor, borderWidth: 1.4 });
    });
    const chart = new Chart(ref.current, {
      type: "line",
      data: { datasets },
      options: {
        animation: false,
        responsive: false,
        events: [],
        layout: { padding: { left: 91.2, right: 4, top: 44, bottom: 85 } },
        elements: {
          point: { radius: 0 },
          line: { tension: 0, borderJoinStyle: "round", borderCapStyle: "round", fill: false },
        },
        plugins: { legend: { display: false }, tooltip: { enabled: false }, title: { display: false } },
        scales: {
          x: { type: "linear", min: -0.04, max: 1.04, display: false },
          y: { type: "linear", min: -2.98, max: 2.92, display: false },
        },
      },
      plugins: [rAxesPlugin],
    });
    return () => chart.destroy();
  }, []);
  return (
    <div style={{ position: "fixed", left: 0, top: 0, width: 981, height: 523, overflow: "hidden", background: "#fff" }}>
      <canvas ref={ref} width={990} height={523} style={{ display: "block" }} />
    </div>
  );
}
